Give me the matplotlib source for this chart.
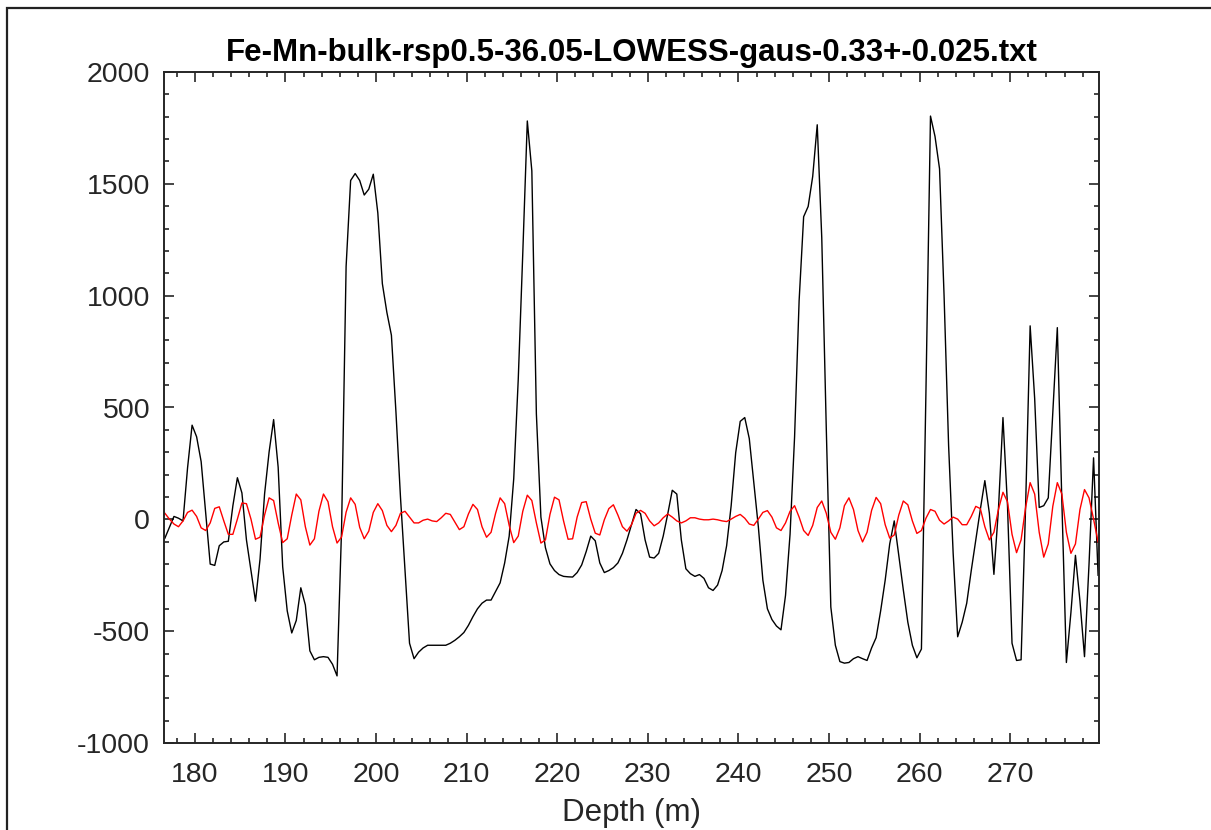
import matplotlib
matplotlib.use("Agg")
import matplotlib.pyplot as plt
from matplotlib.patches import Rectangle
from matplotlib.ticker import MultipleLocator
import numpy as np

plt.rcParams['font.family'] = ['Liberation Sans', 'DejaVu Sans']
plt.rcParams['axes.unicode_minus'] = False

title = "Fe-Mn-bulk-rsp0.5-36.05-LOWESS-gaus-0.33+-0.025.txt"

# resampled depth grid (0.5 m step)
depth_start = 176.7
depth_step = 0.5

# black curve: data minus the filtered signal
signal = [
    -84, -35, 13, 5, -7, 230, 421, 369, 258, 27,
    -200, -206, -118, -101, -98, 60, 186, 118, -92, -229,
    -366, -178, 113, 301, 446, 233, -212, -409, -508, -452,
    -306, -383, -588, -628, -617, -614, -617, -648, -700, -41,
    1131, 1515, 1546, 1515, 1450, 1476, 1543, 1370, 1054, 925,
    823, 480, 100, -230, -554, -623, -594, -575, -563, -563,
    -563, -563, -563, -554, -541, -525, -506, -474, -435, -400,
    -375, -361, -361, -323, -284, -195, -75, 181, 626, 1190,
    1781, 1558, 472, 10, -127, -199, -229, -247, -255, -257,
    -258, -238, -204, -144, -75, -96, -195, -238, -229, -216,
    -195, -152, -92, -24, 44, 25, -92, -169, -173, -152,
    -75, 24, 130, 113, -92, -221, -243, -255, -247, -264,
    -306, -318, -294, -229, -118, 61, 298, 438, 455, 361,
    164, -33, -272, -400, -448, -477, -494, -340, -67, 369,
    977, 1353, 1399, 1533, 1764, 1259, 404, -392, -563, -636,
    -643, -640, -623, -614, -623, -631, -575, -529, -409, -272,
    -110, -7, -161, -315, -460, -563, -619, -580, 575, 1803,
    1712, 1567, 1000, 330, -150, -525, -460, -375, -229, -92,
    44, 173, 27, -246, 44, 455, 61, -554, -631, -628,
    61, 865, 540, 53, 61, 96, 472, 857, 79, -640,
    -417, -161, -366, -614, -200, 275, -250,
]

# red curve: gaussian band-pass filtered output
filtered = [
    27, 1, -21, -33, -7, 31, 41, 13, -38, -50,
    -16, 49, 56, -7, -67, -67, 1, 73, 70, 1,
    -89, -80, 19, 96, 84, -16, -104, -87, 19, 113,
    87, -33, -115, -87, 36, 113, 79, -33, -106, -79,
    32, 96, 67, -36, -87, -53, 31, 70, 39, -27,
    -55, -27, 27, 36, 10, -16, -16, -4, 1, -7,
    -10, 7, 27, 22, -12, -46, -33, 24, 67, 44,
    -33, -80, -58, 27, 96, 70, -27, -104, -75, 36,
    108, 84, -16, -106, -92, 22, 99, 87, -7, -89,
    -87, 10, 75, 79, 1, -62, -70, -2, 48, 65,
    19, -33, -53, -24, 27, 40, 27, -7, -29, -16,
    7, 24, 10, -7, -16, -7, 7, 7, 1, -2,
    -2, 1, -2, -7, -10, 1, 13, 22, 5, -21,
    -27, 1, 31, 39, 10, -38, -50, -16, 36, 61,
    10, -50, -72, -27, 53, 82, 27, -58, -89, -38,
    61, 96, 44, -50, -101, -58, 40, 98, 70, -24,
    -84, -70, 19, 82, 65, -7, -63, -50, 5, 44,
    36, -4, -21, -7, 10, 1, -24, -24, 13, 58,
    48, -33, -92, -58, 44, 121, 79, -67, -149, -92,
    53, 164, 113, -58, -169, -110, 58, 164, 113, -58,
    -152, -110, 44, 133, 96, 1, -101,
]

depth = depth_start + depth_step * np.arange(len(signal))

axis_color = "#262626"

fig = plt.figure(figsize=(12.11, 8.30), dpi=100)
ax = fig.add_axes([164 / 1211, 1 - 743 / 830, 935 / 1211, 671 / 830])

ax.plot(depth, signal, color="black", linewidth=1.0)
ax.plot(depth, filtered, color="#ff0000", linewidth=1.0)

ax.set_xlim(176.6, 279.8)
ax.set_ylim(-1000, 2000)
ax.xaxis.set_major_locator(MultipleLocator(10))
ax.xaxis.set_minor_locator(MultipleLocator(2))
ax.yaxis.set_major_locator(MultipleLocator(500))
ax.yaxis.set_minor_locator(MultipleLocator(100))

ax.tick_params(which="both", direction="in", top=True, right=True,
               color=axis_color, width=1.2)
ax.tick_params(which="major", length=7, labelsize=20.5, labelcolor=axis_color)
ax.tick_params(axis="x", which="major", pad=14)
ax.tick_params(axis="y", which="major", pad=10)
ax.tick_params(which="minor", length=3.5)
for s in ax.spines.values():
    s.set_color(axis_color)
    s.set_linewidth(1.4)

ax.set_title(title, fontsize=22.5, fontweight="bold", color="black", pad=8)
ax.set_xlabel("Depth (m)", fontsize=22.5, color=axis_color, labelpad=7)

# outer frame of the exported figure (clipped on right and bottom)
frame = Rectangle((7 / 1211, -0.1), 1.2, 1 - 8 / 830 + 0.1, transform=fig.transFigure,
                  fill=False, edgecolor="#222222", linewidth=1.6, clip_on=False)
fig.patches.append(frame)

fig.savefig("out.png", dpi=100)
